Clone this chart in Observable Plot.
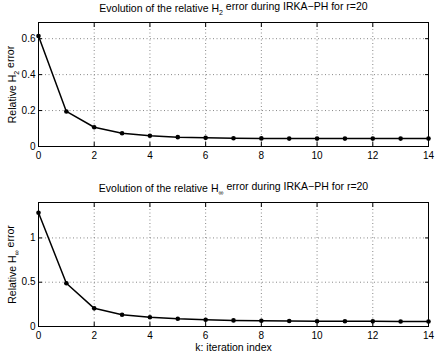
<!DOCTYPE html>
<html>
<head>
<meta charset="utf-8">
<script src="https://cdn.jsdelivr.net/npm/d3@7"></script>
<script src="https://cdn.jsdelivr.net/npm/@observablehq/plot@0.6"></script>
<style>
  html, body { margin: 0; padding: 0; background: #fff; }
  #chart { width: 436px; height: 354px; background: #fff; }
  #chart svg { display: block; }
</style>
</head>
<body>
<div id="chart"></div>
<script>
// iteration index
const iterations = [0, 1, 2, 3, 4, 5, 6, 7, 8, 9, 10, 11, 12, 13, 14];
// relative H2 error
const errH2 = [0.615, 0.195, 0.107, 0.074, 0.060, 0.052, 0.048, 0.046, 0.045, 0.044, 0.044, 0.044, 0.044, 0.044, 0.044];
// relative H-infinity error
const errHinf = [1.284, 0.488, 0.205, 0.133, 0.105, 0.087, 0.076, 0.069, 0.065, 0.062, 0.060, 0.059, 0.058, 0.057, 0.056];
const xTicks = [0, 2, 4, 6, 8, 10, 12, 14];
const yTicksH2 = [0, 0.2, 0.4, 0.6];
const yTicksHinf = [0, 0.5, 1];
const titleH2 = "Evolution of the relative H_2 error during IRKA\u2212PH for r=20";
const titleHinf = "Evolution of the relative H_inf error during IRKA\u2212PH for r=20";
const ylabelH2 = "Relative H_2 error";
const ylabelHinf = "Relative H_inf error";
const xlabel = "k: iteration index";

const FONT = "Liberation Sans, Arial, Helvetica, sans-serif";

function makePlot(values, yDomain, yTicks, title, ylabel, opts) {
  const data = iterations.map((k, i) => ({k, v: values[i]}));
  const marks = [
    Plot.gridX(xTicks, {stroke: "#888", strokeOpacity: 1, strokeDasharray: "1,2.5"}),
    Plot.gridY(yTicks, {stroke: "#888", strokeOpacity: 1, strokeDasharray: "1,2.5"}),
    Plot.axisX(xTicks, {anchor: "bottom", label: null, tickSize: -4, tickPadding: 9, tickFormat: d => String(d), fontSize: 10, stroke: "#000"}),
    Plot.axisX(xTicks, {anchor: "top", label: null, tickSize: -4, tickFormat: null, text: null, stroke: "#000"}),
    Plot.axisY(yTicks, {anchor: "left", label: null, tickSize: -4, tickPadding: 7, tickFormat: d => String(d), fontSize: 10, stroke: "#000"}),
    Plot.axisY(yTicks, {anchor: "right", label: null, tickSize: -4, tickFormat: null, text: null, stroke: "#000"}),
    Plot.frame({stroke: "#000", strokeWidth: 1}),
    Plot.line(data, {x: "k", y: "v", stroke: "#000", strokeWidth: 1.5}),
    Plot.dot(data, {x: "k", y: "v", r: 2.3, fill: "#000", stroke: "none"}),
    Plot.text([title], {frameAnchor: "top", dy: -14, lineAnchor: "middle", fontSize: 10.5, fill: "#000"}),
    Plot.text([ylabel], {frameAnchor: "left", dx: -26, rotate: -90, textAnchor: "middle", lineAnchor: "middle", fontSize: 10.5, fill: "#000"})
  ];
  if (opts.xlabel) {
    marks.push(Plot.text([opts.xlabel], {frameAnchor: "bottom", dy: 21, lineAnchor: "middle", fontSize: 10.5, fill: "#000"}));
  }
  return Plot.plot({
    width: 436,
    height: 177,
    marginLeft: 38,
    marginRight: 8,
    marginTop: opts.marginTop,
    marginBottom: opts.marginBottom,
    style: {fontFamily: FONT, fontSize: "10px", background: "#fff", color: "#000"},
    x: {domain: [0, 14], axis: null},
    y: {domain: yDomain, axis: null},
    marks
  });
}

function subscriptify(svg) {
  d3.select(svg).selectAll("text").each(function() {
    const t = this.textContent;
    if (!t.includes("H_")) return;
    const parts = t.split(/H_(2|inf)/);
    const el = d3.select(this);
    el.text(null);
    el.append("tspan").text(parts[0] + "H");
    const sub = parts[1] === "2" ? "2" : "\u221E";
    el.append("tspan").attr("font-size", "7").attr("dy", "0.4em").text(sub);
    el.append("tspan").attr("dy", "-0.4em").text(parts[2]);
  });
}

const plotTop = makePlot(errH2, [0, 0.69], yTicksH2, titleH2, ylabelH2, {marginTop: 22, marginBottom: 31});
const plotBottom = makePlot(errHinf, [0, 1.4], yTicksHinf, titleHinf, ylabelHinf, {marginTop: 25, marginBottom: 28, xlabel});
subscriptify(plotTop);
subscriptify(plotBottom);
document.getElementById("chart").append(plotTop, plotBottom);
</script>
</body>
</html>
